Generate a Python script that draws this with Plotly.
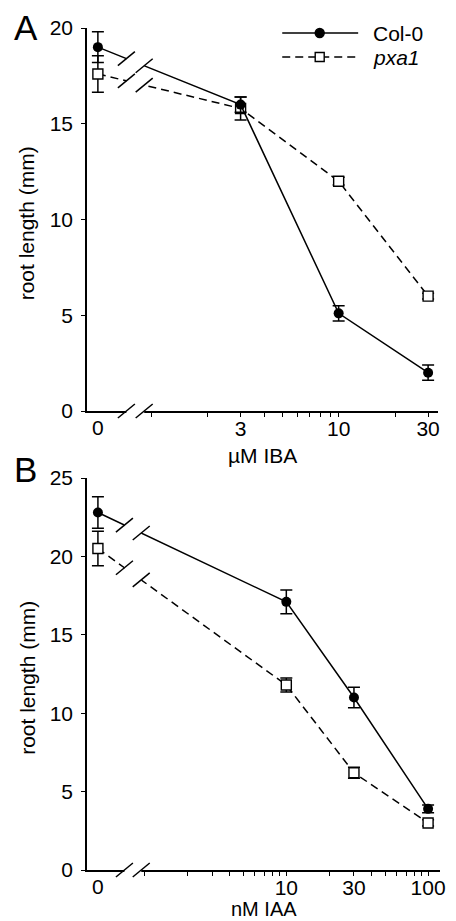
import math
import plotly.graph_objects as go

# ---------------- data ----------------
IBA_CONC = [0, 3, 10, 30]            # µM IBA
IBA_COL0 = [19.0, 16.0, 5.1, 2.0]
IBA_COL0_ERR = [0.8, 0.4, 0.4, 0.4]
IBA_PXA1 = [17.6, 15.8, 12.0, 6.0]
IBA_PXA1_ERR = [0.95, 0.6, 0.2, 0.15]

IAA_CONC = [0, 10, 30, 100]          # nM IAA
IAA_COL0 = [22.8, 17.1, 11.0, 3.9]
IAA_COL0_ERR = [1.0, 0.75, 0.65, 0.25]
IAA_PXA1 = [20.5, 11.8, 6.2, 3.0]
IAA_PXA1_ERR = [1.1, 0.45, 0.35, 0.2]

IBA_TICKS = [1, 2, 3, 4, 5, 6, 7, 8, 9, 10, 20, 30]
IBA_LABELS = {3: "3", 10: "10", 30: "30"}
IAA_TICKS = [1, 2, 3, 4, 5, 6, 7, 8, 9, 10, 20, 30, 40, 50, 60, 70, 80, 90, 100]
IAA_LABELS = {10: "10", 30: "30", 100: "100"}

SERIES_NAMES = ["Col-0", "pxa1"]
Y_TITLE = "root length (mm)"
X_TITLES = ["µM IBA", "nM IAA"]

# ---------------- layout constants ----------------
W, H = 456, 921
ML, MR, MT, MB = 87, 11, 28, 51
PW, PH = W - ML - MR, H - MT - MB
FONT = "Liberation Sans, Arial, sans-serif"
TICK_FS = 21
TITLE_FS = 21
DASH = "8px,5px"

A_RANGE = [-0.342, 1.530]
B_RANGE = [-0.406, 2.084]
A_XDOM = [0, 356 / PW]
B_XDOM = [0, 1]
A_YDOM = [(870 - 411) / PH, 1.0]
B_YDOM = [0, (870 - 478) / PH]
A_ZERO_LOG = -0.284    # display position of the "0" dose on the broken axis
B_ZERO_LOG = -0.329
A_BREAK = (-0.132, -0.037)
B_BREAK = (-0.142, -0.0235)


def to_paper_x(logv, rng, dom):
    return dom[0] + (logv - rng[0]) / (rng[1] - rng[0]) * (dom[1] - dom[0])


def to_paper_y(v, yr, dom):
    return dom[0] + (v - yr[0]) / (yr[1] - yr[0]) * (dom[1] - dom[0])


def px2x(px):
    return (px - ML) / PW


def px2y(py):
    return (H - MB - py) / PH


def positions(conc, zero_log):
    return [10 ** zero_log if c == 0 else c for c in conc]


fig = go.Figure()

panels = [
    dict(conc=IBA_CONC, col0=IBA_COL0, col0e=IBA_COL0_ERR, pxa=IBA_PXA1, pxae=IBA_PXA1_ERR,
         xa="x", ya="y", zero=A_ZERO_LOG, rng=A_RANGE, xdom=A_XDOM, ydom=A_YDOM, yr=[0, 20],
         brk=A_BREAK, xtitle=X_TITLES[0], xtitle_y=455, xtitle_anchor="middle", xtitle_fs=TITLE_FS),
    dict(conc=IAA_CONC, col0=IAA_COL0, col0e=IAA_COL0_ERR, pxa=IAA_PXA1, pxae=IAA_PXA1_ERR,
         xa="x2", ya="y2", zero=B_ZERO_LOG, rng=B_RANGE, xdom=B_XDOM, ydom=B_YDOM, yr=[0, 25],
         brk=B_BREAK, xtitle=X_TITLES[1], xtitle_y=921, xtitle_anchor="bottom", xtitle_fs=20),
]

shapes = []
annotations = []

for p in panels:
    xs = positions(p["conc"], p["zero"])
    fig.add_trace(go.Scatter(
        x=xs, y=p["pxa"], mode="lines+markers", xaxis=p["xa"], yaxis=p["ya"],
        name=SERIES_NAMES[1], showlegend=False, cliponaxis=False,
        line=dict(color="black", width=1.5, dash=DASH),
        marker=dict(symbol="square", size=10, color="white", line=dict(color="black", width=1.4)),
        error_y=dict(type="data", array=p["pxae"], color="black", thickness=1.5, width=6),
    ))
    fig.add_trace(go.Scatter(
        x=xs, y=p["col0"], mode="lines+markers", xaxis=p["xa"], yaxis=p["ya"],
        name=SERIES_NAMES[0], showlegend=False, cliponaxis=False,
        line=dict(color="black", width=1.5),
        marker=dict(symbol="circle", size=10, color="black"),
        error_y=dict(type="data", array=p["col0e"], color="black", thickness=1.5, width=6),
    ))

    # white band hiding the break gap (lines + x-axis)
    b0 = to_paper_x(p["brk"][0], p["rng"], p["xdom"])
    b1 = to_paper_x(p["brk"][1], p["rng"], p["xdom"])
    y_bot = to_paper_y(p["yr"][0], p["yr"], p["ydom"])
    y_top = to_paper_y(p["yr"][1], p["yr"], p["ydom"])
    shapes.append(dict(type="rect", xref="paper", yref="paper", x0=b0, x1=b1,
                       y0=y_bot - 4 / PH, y1=y_top, fillcolor="white",
                       line=dict(width=0), layer="above"))

    # break slashes on the axis and on each series line
    lz = p["zero"]
    l1 = math.log10(p["conc"][1])
    for series in (p["col0"], p["pxa"], None):
        for lb in p["brk"]:
            px = to_paper_x(lb, p["rng"], p["xdom"])
            if series is None:
                yv = p["yr"][0]
            else:
                t = (lb - lz) / (l1 - lz)
                yv = series[0] + t * (series[1] - series[0])
            py = to_paper_y(yv, p["yr"], p["ydom"])
            shapes.append(dict(type="line", xref="paper", yref="paper",
                               xsizemode="pixel", ysizemode="pixel",
                               xanchor=px, yanchor=py, x0=-8.5, x1=8.5, y0=-7, y1=7,
                               line=dict(color="black", width=1.5), layer="above"))

    # "0" dose label (no tick mark on the reference)
    annotations.append(dict(text="0", xref="paper", yref="paper",
                            x=to_paper_x(lz, p["rng"], p["xdom"]), y=y_bot,
                            yanchor="top", xanchor="center", yshift=-3, showarrow=False,
                            font=dict(size=TICK_FS, family=FONT, color="black")))
    # x-axis title
    xc = (p["xdom"][0] + p["xdom"][1]) / 2
    annotations.append(dict(text=p["xtitle"], xref="paper", yref="paper", x=xc,
                            y=px2y(p["xtitle_y"]), xanchor="center", yanchor=p["xtitle_anchor"],
                            showarrow=False, borderpad=0,
                            font=dict(size=p["xtitle_fs"], family=FONT, color="black")))
    # y-axis title
    annotations.append(dict(text=Y_TITLE, xref="paper", yref="paper", x=px2x(26),
                            y=(y_bot + y_top) / 2 - 4 / PH, xanchor="center", yanchor="middle",
                            textangle=-90, showarrow=False,
                            font=dict(size=TITLE_FS, family=FONT, color="black")))

# manual legend
leg = [(33, "solid", "circle", "black", SERIES_NAMES[0]),
       (57, DASH, "square", "white", "<i>" + SERIES_NAMES[1] + "</i>")]
for ly, dash, sym, fill, label in leg:
    shapes.append(dict(type="line", xref="paper", yref="paper", x0=px2x(285), x1=px2x(362),
                       y0=px2y(ly), y1=px2y(ly), line=dict(color="black", width=1.5, dash=dash)))
    shapes.append(dict(type="circle" if sym == "circle" else "rect", xref="paper", yref="paper",
                       xsizemode="pixel", ysizemode="pixel", xanchor=px2x(323), yanchor=px2y(ly),
                       x0=-4.5, x1=4.5, y0=-4.5, y1=4.5, fillcolor=fill,
                       line=dict(color="black", width=1.4), layer="above"))
    annotations.append(dict(text=label, xref="paper", yref="paper", x=px2x(375), y=px2y(ly),
                            xanchor="left", yanchor="middle", showarrow=False,
                            font=dict(size=TICK_FS, family=FONT, color="black")))

# panel letters
for letter, cy in (("A", 27), ("B", 469)):
    annotations.append(dict(text=letter, xref="paper", yref="paper", x=px2x(25), y=px2y(cy),
                            xanchor="center", yanchor="middle", showarrow=False,
                            font=dict(size=35, family=FONT, color="black")))


def xaxis_cfg(rng, dom, ticks, labels, anchor):
    return dict(type="log", range=rng, domain=dom, anchor=anchor,
                tickvals=ticks, ticktext=[labels.get(t, "") for t in ticks],
                ticks="outside", ticklen=4, tickwidth=1.3, tickcolor="black",
                showline=True, linecolor="black", linewidth=1.5, showgrid=False, zeroline=False,
                ticklabelstandoff=-6,
                tickfont=dict(size=TICK_FS, family=FONT, color="black"))


def yaxis_cfg(yr, dom, dtick, anchor):
    return dict(range=yr, domain=dom, anchor=anchor, dtick=dtick,
                ticks="outside", ticklen=4, tickwidth=1.3, tickcolor="black",
                showline=True, linecolor="black", linewidth=1.5, showgrid=False, zeroline=False,
                ticklabelstandoff=4,
                tickfont=dict(size=TICK_FS, family=FONT, color="black"))


fig.update_layout(
    width=W, height=H, margin=dict(l=ML, r=MR, t=MT, b=MB),
    paper_bgcolor="white", plot_bgcolor="white", showlegend=False,
    font=dict(family=FONT, color="black"),
    xaxis=xaxis_cfg(A_RANGE, A_XDOM, IBA_TICKS, IBA_LABELS, "y"),
    yaxis=yaxis_cfg([0, 20], A_YDOM, 5, "x"),
    xaxis2=xaxis_cfg(B_RANGE, B_XDOM, IAA_TICKS, IAA_LABELS, "y2"),
    yaxis2=yaxis_cfg([0, 25], B_YDOM, 5, "x2"),
    shapes=shapes, annotations=annotations,
)

fig.write_html("out.html", config={"displayModeBar": False},
               post_script="document.body.style.margin='0';")
